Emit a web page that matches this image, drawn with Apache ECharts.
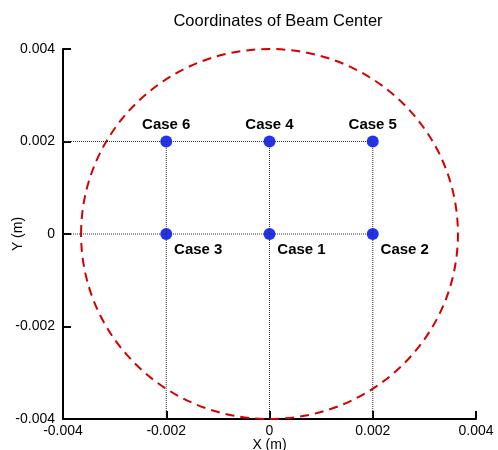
<!DOCTYPE html>
<html>
<head>
<meta charset="utf-8" />
<title>Coordinates of Beam Center</title>
<script src="https://cdn.jsdelivr.net/npm/echarts@6/dist/echarts.min.js"></script>
<style>
  body { margin: 0; background: #fff; }
  #main { width: 498px; height: 450px; }
</style>
</head>
<body>
<div id="main"></div>
<script>
// beam center cases
var caseNames = ['Case 1', 'Case 2', 'Case 3', 'Case 4', 'Case 5', 'Case 6'];
var caseX = [0, 0.002, -0.002, 0, 0.002, -0.002];
var caseY = [0, 0, 0, 0.002, 0.002, 0.002];
// beam boundary: center x, center y, radius x, radius y
var beamBoundary = [[0, 0, 0.00365, 0.004]];
// dotted guide lines
var guideLines = [
  [[-0.004, 0.002], [0.002, 0.002]],
  [[-0.004, 0], [0.002, 0]],
  [[-0.002, -0.004], [-0.002, 0.002]],
  [[0, -0.004], [0, 0.002]],
  [[0.002, -0.004], [0.002, 0.002]]
];
var axisMin = -0.004, axisMax = 0.004, axisStep = 0.002;

var chart = echarts.init(document.getElementById('main'));
var font = 'Liberation Sans, Arial, sans-serif';

var points = caseNames.map(function (n, i) {
  var top = caseY[i] > 0;
  return {
    name: n,
    value: [caseX[i], caseY[i]],
    label: top ? { position: 'top', distance: 3 } : { position: 'bottom', offset: [32, -3] }
  };
});

var series = guideLines.map(function (l) {
  return {
    type: 'line',
    data: l,
    symbol: 'none',
    silent: true,
    z: 6,
    lineStyle: { color: '#333', width: 1, type: [1, 1] }
  };
});

series.push({
  type: 'custom',
  data: beamBoundary,
  silent: true,
  clip: false,
  renderItem: function (params, api) {
    var c = api.coord([api.value(0), api.value(1)]);
    var s = api.size([api.value(2), api.value(3)]);
    return {
      type: 'ellipse',
      shape: { cx: c[0], cy: c[1], rx: s[0], ry: s[1] },
      style: { fill: 'none', stroke: '#d40000', lineWidth: 2, lineDash: [9, 6] }
    };
  }
});

series.push({
  type: 'scatter',
  data: points,
  symbolSize: 12,
  itemStyle: { color: '#2233f5', opacity: 1 },
  label: {
    show: true,
    formatter: '{b}',
    color: '#000',
    fontFamily: font,
    fontWeight: 'bold',
    fontSize: 15
  },
  z: 5
});

function axis(name, gap, labelMargin) {
  return {
    type: 'value',
    min: axisMin,
    max: axisMax,
    interval: axisStep,
    name: name,
    nameLocation: 'middle',
    nameGap: gap,
    nameMoveOverlap: false,
    nameTextStyle: { color: '#000', fontFamily: font, fontSize: 14 },
    axisLine: { show: true, onZero: false, lineStyle: { color: '#000', width: 2 } },
    axisTick: { show: true, inside: true, length: 8, lineStyle: { color: '#000', width: 2 } },
    axisLabel: { color: '#000', fontFamily: font, fontSize: 14, margin: labelMargin },
    splitLine: { show: false }
  };
}

var option = {
  animation: false,
  title: {
    text: 'Coordinates of Beam Center',
    left: 273,
    top: 8,
    textAlign: 'center',
    textStyle: { color: '#000', fontFamily: font, fontWeight: 'normal', fontSize: 16.5 }
  },
  grid: { left: 63, right: 22, top: 49, bottom: 31, containLabel: false, outerBoundsMode: 'none' },
  xAxis: axis('X (m)', 19, 5),
  yAxis: axis('Y (m)', 38, 8),
  series: series
};
chart.setOption(option);
</script>
</body>
</html>
